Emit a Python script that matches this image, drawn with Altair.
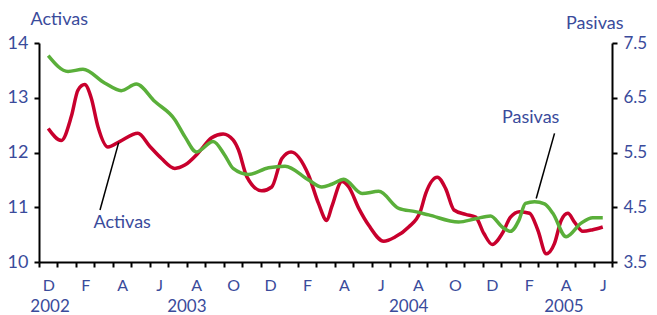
import json
import altair as alt
import pandas as pd

# month letters (Spanish), Dec 2002 .. Jun 2005 ; shown every other month
month_letters = ["D", "E", "F", "M", "A", "M", "J", "J", "A", "S", "O", "N"] * 3
years = ["2002", "2003", "2004", "2005"]
year_pos = [0.6, 8.0, 20.0, 28.4]

# position in months since 1 Dec 2002
act_t = [0.5, 1.21, 1.75, 2.11, 2.47, 2.83, 3.19, 3.73, 4.36, 5.35, 6.0, 6.63, 7.35, 7.89,
         8.61, 9.34, 9.96, 10.5, 10.79, 11.24, 12.05, 12.59, 13.14, 13.64, 14.58, 15.12,
         15.57, 15.84, 16.39, 16.76, 17.30, 17.84, 18.65, 19.28, 20.0, 20.63, 20.92, 21.55,
         22.0, 22.45, 23.08, 23.62, 24.07, 24.52, 25.06, 25.51, 26.0, 26.54, 26.99, 27.44,
         27.89, 28.25, 28.61, 28.97, 29.42, 29.96, 30.5]
act_v = [12.44, 12.22, 12.66, 13.14, 13.24, 12.99, 12.47, 12.10, 12.20, 12.35, 12.11, 11.89,
         11.71, 11.77, 11.99, 12.27, 12.34, 12.23, 12.05, 11.56, 11.30, 11.37, 11.89, 12.01,
         11.59, 11.07, 10.76, 11.01, 11.47, 11.37, 10.98, 10.67, 10.38, 10.46, 10.64, 10.92,
         11.25, 11.55, 11.34, 10.95, 10.87, 10.82, 10.52, 10.32, 10.52, 10.82, 10.92, 10.89,
         10.58, 10.15, 10.34, 10.76, 10.89, 10.73, 10.56, 10.59, 10.64]

pas_t = [0.5, 1.57, 2.38, 3.55, 4.45, 5.26, 6.27, 7.35, 7.89, 8.52, 9.42, 10.05, 10.5, 11.34,
         12.42, 13.31, 14.58, 15.30, 15.84, 16.49, 17.48, 18.38, 19.46, 20.36, 21.08, 22.70,
         23.62, 24.43, 25.06, 25.51, 25.96, 26.32, 26.81, 27.35, 27.80, 28.52, 29.33, 29.96,
         30.5]
pas_v = [7.27, 6.98, 7.02, 6.77, 6.63, 6.75, 6.43, 6.10, 5.79, 5.51, 5.70, 5.45, 5.21, 5.10,
         5.22, 5.25, 5.00, 4.87, 4.92, 5.01, 4.75, 4.79, 4.48, 4.42, 4.36, 4.23, 4.29, 4.34,
         4.14, 4.06, 4.26, 4.57, 4.60, 4.56, 4.39, 3.96, 4.21, 4.31, 4.31]

# annotations: label position and leader line (data coordinates)
act_label = {"t": 4.5, "v": 10.71, "text": "Activas"}
act_leader = {"t": 3.30, "v": 10.95, "t2": 4.31, "v2": 12.18}
pas_label = {"t": 26.6, "v": 6.13, "text": "Pasivas"}
pas_leader = {"t": 27.89, "v": 5.85, "t2": 26.9, "v2": 4.66}

RED = "#C8002D"
GREEN = "#5AAF3A"
NAVY = "#3A4B9B"
FONT = "Lato"

labels_every_other = [month_letters[i] if (i % 2 == 0) else "" for i in range(31)] + [""]
label_expr = json.dumps(labels_every_other) + "[datum.value]"

xscale = alt.Scale(domain=[0, 31], nice=False, zero=False)
yl_scale = alt.Scale(domain=[10, 14], nice=False, zero=False)
yr_scale = alt.Scale(domain=[3.5, 7.5], nice=False, zero=False)

act_df = pd.DataFrame({"t": act_t, "v": act_v})
pas_df = pd.DataFrame({"t": pas_t, "v": pas_v})
year_df = pd.DataFrame({"t": year_pos, "year": years})

x_axis = alt.Axis(values=list(range(32)), labelExpr=label_expr, labelOffset=9.24,
                  labelOverlap=False, labelFlush=False, tickSize=5, labelPadding=10, grid=False,
                  labelFontSize=16, labelColor=NAVY, labelFont=FONT,
                  domainColor="black", tickColor="black", domainWidth=2, tickWidth=2,
                  title=None)

left_axis = alt.Axis(values=[10, 11, 12, 13, 14], tickSize=5, labelPadding=6, grid=False,
                     labelFontSize=18, labelColor=NAVY, labelFont=FONT,
                     domainColor="black", tickColor="black", domainWidth=2, tickWidth=2,
                     title="Activas", titleAngle=0, titleX=-9, titleY=-24, titleAlign="left",
                     titleBaseline="middle", titleFontSize=18, titleFontWeight="normal",
                     titleColor=NAVY, titleFont=FONT)
right_axis = alt.Axis(values=[3.5, 4.5, 5.5, 6.5, 7.5], format=".1f", orient="right",
                      tickSize=5, labelPadding=6, grid=False,
                      labelFontSize=17, labelColor=NAVY, labelFont=FONT,
                      domainColor="black", tickColor="black", domainWidth=2, tickWidth=2,
                      title="Pasivas", titleAngle=0, titleX=11, titleY=-20, titleAlign="right",
                      titleBaseline="middle", titleFontSize=18, titleFontWeight="normal",
                      titleColor=NAVY, titleFont=FONT)

X = alt.X("t:Q", scale=xscale, axis=x_axis)
YL = alt.Y("v:Q", scale=yl_scale, axis=left_axis)
YR = alt.Y("v:Q", scale=yr_scale, axis=right_axis)

act_line = alt.Chart(act_df).mark_line(color=RED, strokeWidth=3.5, interpolate="monotone").encode(
    x=X, y=YL,
)
act_rule = alt.Chart(pd.DataFrame([act_leader])).mark_rule(color="black", strokeWidth=1.5).encode(
    x=X, x2="t2:Q", y=YL, y2="v2:Q",
)
act_text = alt.Chart(pd.DataFrame([act_label])).mark_text(
    color=NAVY, fontSize=18, font=FONT, align="center", baseline="middle").encode(
    x=X, y=YL, text="text:N",
)
year_text = alt.Chart(year_df).mark_text(
    color=NAVY, fontSize=17, font=FONT, align="center", baseline="middle").encode(
    x=X, y=alt.value(264), text="year:N",
)

pas_line = alt.Chart(pas_df).mark_line(color=GREEN, strokeWidth=3.5, interpolate="monotone").encode(
    x=X, y=YR,
)
pas_rule = alt.Chart(pd.DataFrame([pas_leader])).mark_rule(color="black", strokeWidth=1.5).encode(
    x=X, x2="t2:Q", y=YR, y2="v2:Q",
)
pas_text = alt.Chart(pd.DataFrame([pas_label])).mark_text(
    color=NAVY, fontSize=18, font=FONT, align="center", baseline="middle").encode(
    x=X, y=YR, text="text:N",
)

left = alt.layer(act_line, act_rule, act_text, year_text)
right = alt.layer(pas_line, pas_rule, pas_text)

chart = alt.layer(left, right).resolve_scale(y="independent").properties(
    width=573, height=219,
    padding={"left": 31, "top": 35, "right": 37, "bottom": 56},
    autosize="none",
).configure_view(strokeWidth=0)

chart.save("out.html", embed_options={"renderer": "svg", "actions": False})
